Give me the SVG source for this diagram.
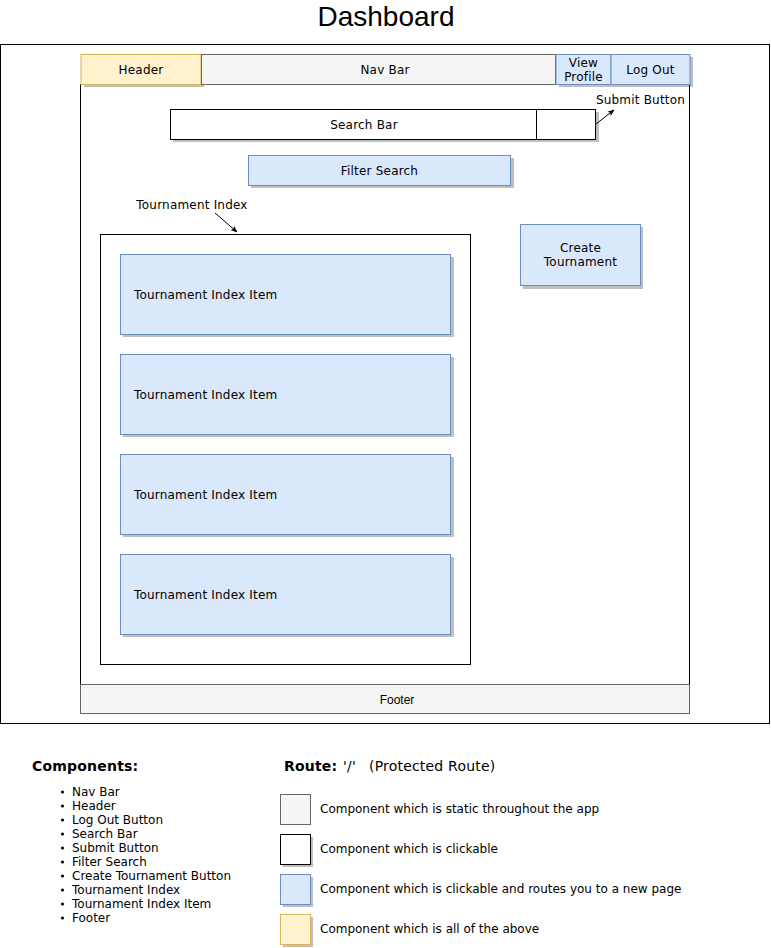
<svg xmlns="http://www.w3.org/2000/svg" width="771" height="948" viewBox="0 0 771 948">
  <style>
    .t { font-family: "DejaVu Sans", Verdana, sans-serif; font-size: 12px; fill: #000; letter-spacing: 0.2px; }
    .h { font-family: "Liberation Sans", Arial, sans-serif; fill: #000; }
    .sh { fill: #000; opacity: 0.25; }
    .static { fill: #f5f5f5; stroke: #666666; stroke-width: 1; }
    .click { fill: #ffffff; stroke: #000000; stroke-width: 1; }
    .route { fill: #dae8fc; stroke: #6c8ebf; stroke-width: 1; }
    .all { fill: #fff2cc; stroke: #d6b656; stroke-width: 1; }
    .line { fill: none; stroke: #000; stroke-width: 1; }
    .b { font-weight: bold; }
    .big { font-size: 14px; letter-spacing: 0.2px; }
    .tight { letter-spacing: 0; }
  </style>
  <defs>
    <marker id="arr" viewBox="0 0 10 10" refX="9" refY="5" markerWidth="7" markerHeight="7" orient="auto">
      <path d="M0,1 L10,5 L0,9 L2.5,5 Z" fill="#000"/>
    </marker>
  </defs>

  <rect width="771" height="948" fill="#ffffff"/>

  <text class="h" x="386" y="26" font-size="28" text-anchor="middle">Dashboard</text>

  <!-- page frame -->
  <rect id="frame" x="0.5" y="44.5" width="769" height="679" class="click"/>
  <!-- page body -->
  <rect id="page" x="80.5" y="84.5" width="609" height="600" class="click"/>

  <g id="header">
    <rect x="84" y="57" width="120" height="30" class="sh"/>
    <rect x="81" y="54.5" width="120" height="30" class="all"/>
    <text class="t" x="141" y="74" text-anchor="middle">Header</text>
  </g>
  <g id="navbar">
    <rect x="201.5" y="54.5" width="354" height="30" class="static"/>
    <text class="t" x="385" y="74" text-anchor="middle">Nav Bar</text>
  </g>
  <g id="view-profile">
    <rect x="559" y="57" width="55" height="30" class="sh"/>
    <rect x="556" y="54.5" width="55" height="30" class="route"/>
    <text class="t" x="583.5" y="67" text-anchor="middle">View</text>
    <text class="t" x="583.5" y="81" text-anchor="middle">Profile</text>
  </g>
  <g id="log-out">
    <rect x="614" y="57" width="79" height="30" class="sh"/>
    <rect x="611" y="54.5" width="79" height="30" class="route"/>
    <text class="t" x="650.5" y="74" text-anchor="middle">Log Out</text>
  </g>

  <g id="search-bar">
    <rect x="173" y="112" width="426" height="30" class="sh"/>
    <rect x="170.5" y="109.5" width="366" height="30" class="click"/>
    <text class="t" x="364" y="129" text-anchor="middle">Search Bar</text>
  </g>
  <g id="submit-button">
    <rect x="536.5" y="109.5" width="59" height="30" class="click"/>
    <text class="t" x="640.5" y="104" text-anchor="middle">Submit Button</text>
  </g>

  <g id="filter-search">
    <rect x="251" y="158" width="263" height="30" class="sh"/>
    <rect x="248.5" y="155.5" width="262" height="30" class="route"/>
    <text class="t" x="379.5" y="175" text-anchor="middle">Filter Search</text>
  </g>

  <g id="create-tournament">
    <rect x="523" y="227" width="120" height="62" class="sh"/>
    <rect x="520.5" y="224.5" width="120" height="61" class="route"/>
    <text class="t" x="580.5" y="252" text-anchor="middle">Create</text>
    <text class="t" x="580.5" y="266" text-anchor="middle">Tournament</text>
  </g>

  <g id="tournament-index">
    <rect x="100.5" y="234.5" width="370" height="430" class="click"/>
    <text class="t" x="192" y="209" text-anchor="middle">Tournament Index</text>
  </g>

  <g id="item-1">
    <rect x="123" y="257" width="331" height="80" class="sh"/>
    <rect x="120.5" y="254.5" width="330" height="80" class="route"/>
    <text class="t" x="134" y="299">Tournament Index Item</text>
  </g>
  <g id="item-2">
    <rect x="123" y="357" width="331" height="80" class="sh"/>
    <rect x="120.5" y="354.5" width="330" height="80" class="route"/>
    <text class="t" x="134" y="399">Tournament Index Item</text>
  </g>
  <g id="item-3">
    <rect x="123" y="457" width="331" height="80" class="sh"/>
    <rect x="120.5" y="454.5" width="330" height="80" class="route"/>
    <text class="t" x="134" y="499">Tournament Index Item</text>
  </g>
  <g id="item-4">
    <rect x="123" y="557" width="331" height="80" class="sh"/>
    <rect x="120.5" y="554.5" width="330" height="80" class="route"/>
    <text class="t" x="134" y="599">Tournament Index Item</text>
  </g>

  <g id="footer">
    <rect x="80.5" y="684.5" width="609" height="29" class="static"/>
    <text class="h" x="397" y="704" font-size="12" text-anchor="middle">Footer</text>
  </g>

  <g id="connectors">
    <line x1="596" y1="124" x2="614" y2="110" class="line" marker-end="url(#arr)"/>
    <line x1="215" y1="213" x2="237" y2="232" class="line" marker-end="url(#arr)"/>
  </g>

  <!-- legend -->
  <g id="components-list">
    <text class="t b big" x="32" y="771">Components:</text>
    <g class="t">
      <text class="tight" x="72" y="796">Nav Bar</text>
      <text class="tight" x="72" y="810">Header</text>
      <text class="tight" x="72" y="824">Log Out Button</text>
      <text class="tight" x="72" y="838">Search Bar</text>
      <text class="tight" x="72" y="852">Submit Button</text>
      <text class="tight" x="72" y="866">Filter Search</text>
      <text class="tight" x="72" y="880">Create Tournament Button</text>
      <text class="tight" x="72" y="894">Tournament Index</text>
      <text class="tight" x="72" y="908">Tournament Index Item</text>
      <text class="tight" x="72" y="922">Footer</text>
    </g>
    <g fill="#000">
      <circle cx="62.5" cy="792" r="1.6"/>
      <circle cx="62.5" cy="806" r="1.6"/>
      <circle cx="62.5" cy="820" r="1.6"/>
      <circle cx="62.5" cy="834" r="1.6"/>
      <circle cx="62.5" cy="848" r="1.6"/>
      <circle cx="62.5" cy="862" r="1.6"/>
      <circle cx="62.5" cy="876" r="1.6"/>
      <circle cx="62.5" cy="890" r="1.6"/>
      <circle cx="62.5" cy="904" r="1.6"/>
      <circle cx="62.5" cy="918" r="1.6"/>
    </g>
  </g>

  <g id="route-legend">
    <text class="t b big" x="284" y="771">Route:</text>
    <text class="t big" x="343" y="771">'/'</text>
    <text class="t big" x="369" y="771">(Protected Route)</text>

    <rect x="280.5" y="794.5" width="30" height="30" class="static"/>
    <text class="t tight" x="320" y="813">Component which is static throughout the app</text>

    <rect x="283" y="837" width="30" height="30" class="sh"/>
    <rect x="280.5" y="834.5" width="30" height="30" class="click"/>
    <text class="t tight" x="320" y="853">Component which is clickable</text>

    <rect x="283" y="877" width="30" height="30" class="sh"/>
    <rect x="280.5" y="874.5" width="30" height="30" class="route"/>
    <text class="t tight" x="320" y="893">Component which is clickable and routes you to a new page</text>

    <rect x="283" y="917" width="30" height="30" class="sh"/>
    <rect x="280.5" y="914.5" width="30" height="30" class="all"/>
    <text class="t tight" x="320" y="933">Component which is all of the above</text>
  </g>
</svg>
